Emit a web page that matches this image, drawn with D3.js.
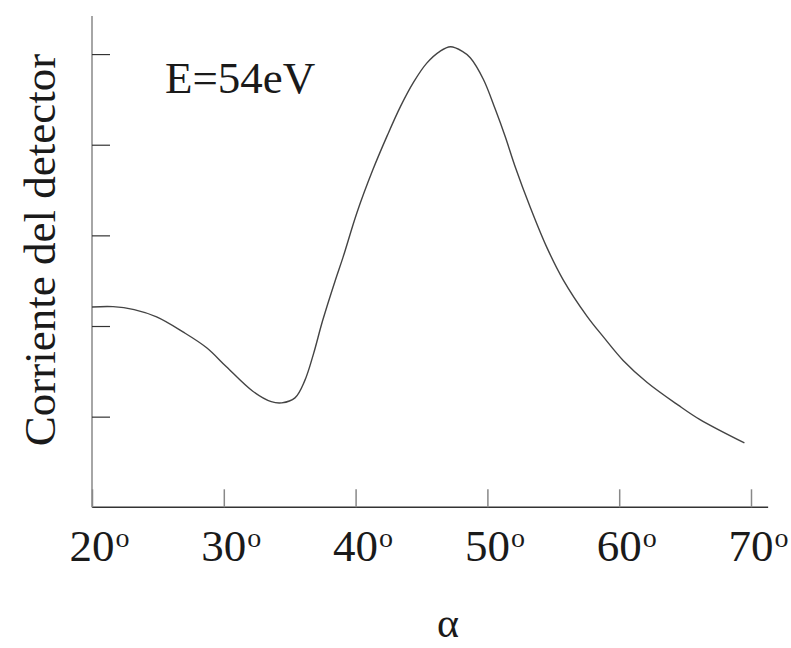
<!DOCTYPE html>
<html>
    <head>
        <meta charset="utf-8">
        <title></title>
        <script src="https://d3js.org/d3.v7.min.js"></script>
        <style>
            body { margin: 0; background: #fff; }
            svg { background-color: #ffffff; }
            text { font-family: "Liberation Serif", "Times New Roman", serif; fill: #1a1a1a; }
        </style>
    </head>
    <body>
        <svg width="791" height="648"></svg>
        <script>
            // angle in degrees / detector current (arbitrary units, tick = 1)
            var angles = [20, 21.6, 23.2, 24.9, 26.9, 28.7, 30.2, 32.2, 33.6, 34.4, 35.4, 36.15, 36.8, 37.5, 38.45,
                          39.05, 40.1, 41.3, 42.4, 43.4, 44.4, 45.4, 46.4, 47.2, 48.1, 48.7, 49.7, 50.6, 51.35, 52.1,
                          53.25, 54.5, 55.75, 57.55, 58.8, 60.3, 62.1, 64.45, 66.1, 69.5];
            var current = [2.21, 2.214, 2.18, 2.10, 1.935, 1.76, 1.55, 1.28, 1.165, 1.152, 1.207, 1.40, 1.69, 2.06, 2.50,
                           2.76, 3.25, 3.72, 4.10, 4.42, 4.69, 4.90, 5.03, 5.08, 5.03, 4.96, 4.72, 4.39, 4.09, 3.76,
                           3.31, 2.87, 2.51, 2.11, 1.88, 1.62, 1.38, 1.13, 0.97, 0.71];
            var xTicks = [20, 30, 40, 50, 60, 70];
            var yTicks = [1, 2, 3, 4, 5];
            var yLabel = "Corriente del detector";
            var note = "E=54eV";

            var svg = d3.select("svg");

            var x = d3.scaleLinear().domain([20, 70]).range([92, 751]);
            var y = d3.scaleLinear().domain([0, 5.42]).range([507.3, 16]);

            // axes lines
            svg.append("line")
                .attr("x1", x(20)).attr("x2", x(71.3))
                .attr("y1", y(0)).attr("y2", y(0))
                .attr("stroke", "#333").attr("stroke-width", 1.5);
            svg.append("line")
                .attr("x1", x(20)).attr("x2", x(20))
                .attr("y1", y(0)).attr("y2", y(5.42))
                .attr("stroke", "#888").attr("stroke-width", 1.5);

            var gx = svg.append("g")
                .attr("transform", "translate(0," + y(0) + ")")
                .call(d3.axisBottom(x).tickValues(xTicks).tickSizeInner(-18).tickSizeOuter(0).tickFormat(""));
            gx.select(".domain").remove();
            gx.selectAll(".tick line").attr("stroke", "#888").attr("stroke-width", 1.5);

            var gy = svg.append("g")
                .attr("transform", "translate(" + x(20) + ",0)")
                .call(d3.axisLeft(y).tickValues(yTicks).tickSizeInner(-18).tickSizeOuter(0).tickFormat(""));
            gy.select(".domain").remove();
            gy.selectAll(".tick line").attr("stroke", "#333").attr("stroke-width", 1.2);

            // tick labels: digits centred on the tick, degree "o" hanging right
            xTicks.forEach(function(t) {
                var lab = svg.append("text")
                    .attr("x", x(t)).attr("y", 561)
                    .attr("text-anchor", "middle")
                    .attr("font-size", 45)
                    .text(t);
                var w = lab.node().getComputedTextLength();
                svg.append("text")
                    .attr("x", x(t) + w / 2 + 1).attr("y", 547)
                    .attr("font-size", 28)
                    .text("o");
            });

            // curve
            var line = d3.line()
                .x(function(d, i) { return x(angles[i]); })
                .y(function(d) { return y(d); })
                .curve(d3.curveCatmullRom.alpha(0.5));
            svg.append("path")
                .datum(current)
                .attr("d", line)
                .attr("fill", "none")
                .attr("stroke", "#444")
                .attr("stroke-width", 1.4);

            // labels
            svg.append("text")
                .attr("x", 165).attr("y", 93)
                .attr("font-size", 45)
                .text(note);

            svg.append("text")
                .attr("transform", "translate(55,250) rotate(-90)")
                .attr("text-anchor", "middle")
                .attr("font-size", 45)
                .text(yLabel);

            svg.append("text")
                .attr("x", 448).attr("y", 637)
                .attr("text-anchor", "middle")
                .attr("font-size", 42)
                .text("α");
        </script>
    </body>
</html>
